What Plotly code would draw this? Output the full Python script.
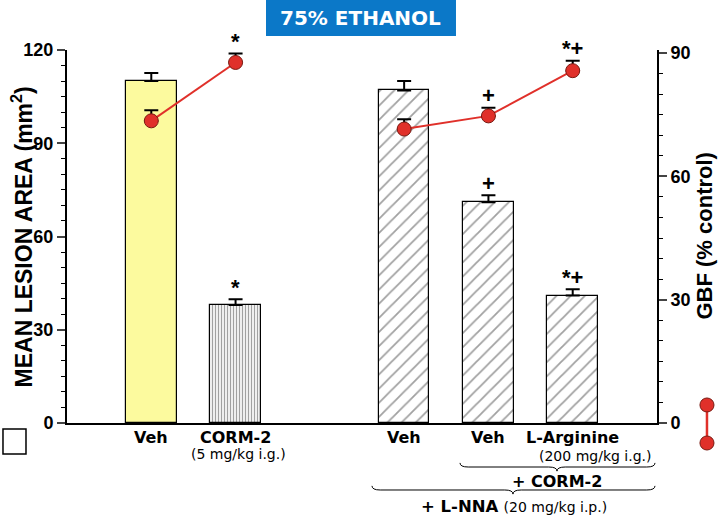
import plotly.graph_objects as go

# ---- data ----
groups = ["Veh", "CORM-2", "Veh", "Veh", "L-Arginine"]
group_sub = ["", "(5 mg/kg i.g.)", "", "", ""]
positions = [0, 1, 3, 4, 5]
lesion = [110.0, 38.0, 107.0, 71.0, 41.0]
lesion_err = [2.6, 1.8, 3.0, 2.3, 2.0]
lesion_sig = ["", "*", "", "+", "*+"]
gbf = [73.5, 87.7, 71.5, 74.7, 85.7]
gbf_err = [2.6, 2.2, 2.4, 2.0, 2.4]
gbf_sig = ["", "*", "", "+", "*+"]
line_groups = [[0, 1], [2, 3, 4]]
left_ticks = [0, 30, 60, 90, 120]
right_ticks = [0, 30, 60, 90]

bar_colors = ["#fcfa9e", "white", "white", "white", "white"]
bar_patterns = ["", "|", "/", "/", "/"]
pat_size = [8, 3, 10, 10, 10]
pat_solid = [0.3, 0.45, 0.18, 0.18, 0.18]
pat_fg = ["#a8a8a8", "#9a9a9a", "#c2c2c2", "#c2c2c2", "#c2c2c2"]

RED = "#e0302a"
BOLD = "DejaVu Sans"
ARIAL = "Liberation Sans"

fig = go.Figure()

fig.add_trace(go.Bar(
    x=positions, y=lesion, width=0.6,
    marker=dict(color=bar_colors, line=dict(color="black", width=1.2),
                pattern=dict(shape=bar_patterns, fgcolor=pat_fg,
                             size=pat_size, solidity=pat_solid, fillmode="overlay")),
    error_y=dict(type="data", symmetric=False, array=lesion_err,
                 arrayminus=[0] * len(lesion_err), color="black", thickness=2, width=7),
    showlegend=False, yaxis="y"))

for g in line_groups:
    fig.add_trace(go.Scatter(
        x=[positions[i] for i in g], y=[gbf[i] for i in g],
        mode="lines+markers",
        line=dict(color=RED, width=2),
        marker=dict(size=14, color=RED, line=dict(color="#7a1a12", width=1)),
        error_y=dict(type="data", symmetric=False, array=[gbf_err[i] for i in g],
                     arrayminus=[0] * len(g), color="black", thickness=2, width=7),
        showlegend=False, yaxis="y2"))

annotations = []
# significance marks
for i, s in enumerate(lesion_sig):
    if s:
        annotations.append(dict(x=positions[i], y=lesion[i] + lesion_err[i], xref="x", yref="y",
                                text="<b>%s</b>" % s, showarrow=False, yanchor="middle",
                                yshift=12, font=dict(family=ARIAL, size=22, color="black")))
for i, s in enumerate(gbf_sig):
    if s:
        annotations.append(dict(x=positions[i], y=gbf[i] + gbf_err[i], xref="x", yref="y2",
                                text="<b>%s</b>" % s, showarrow=False, yanchor="middle",
                                yshift=12, font=dict(family=ARIAL, size=22, color="black")))

# category labels
for i, lab in enumerate(groups):
    annotations.append(dict(x=positions[i], y=-0.040, xref="x", yref="paper",
                            text="<b>%s</b>" % lab, showarrow=False, yanchor="middle",
                            font=dict(family=BOLD, size=16, color="black")))
    if group_sub[i]:
        annotations.append(dict(x=positions[i] + 0.03, y=-0.083, xref="x", yref="paper",
                                text=group_sub[i], showarrow=False, yanchor="middle",
                                font=dict(family=BOLD, size=14, color="black")))

annotations += [
    dict(x=5.26, y=-0.088, xref="x", yref="paper", text="(200 mg/kg i.g.)", showarrow=False,
         yanchor="middle", font=dict(family=BOLD, size=14, color="black")),
    dict(x=4.81, y=-0.158, xref="x", yref="paper", text="<b>+ CORM-2</b>", showarrow=False,
         yanchor="middle", font=dict(family=BOLD, size=16, color="black")),
    dict(x=4.30, y=-0.225, xref="x", yref="paper",
         text="<b>+ L-NNA</b> <span style='font-size:14px'>(20 mg/kg i.p.)</span>",
         showarrow=False, yanchor="middle", font=dict(family=BOLD, size=16.5, color="black")),
    # title
    dict(x=0.498, y=1.086, xref="paper", yref="paper", text="<b>75% ETHANOL</b>",
         showarrow=False, yanchor="middle", font=dict(family=BOLD, size=20, color="white")),
    # axis titles
    dict(x=-0.0763, y=0.5, xref="paper", yref="paper", textangle=-90,
         text="<b>MEAN LESION AREA (mm<sup>2</sup>)</b>", showarrow=False,
         xanchor="center", yanchor="middle", font=dict(family=ARIAL, size=23, color="black")),
    dict(x=1.0797, y=0.5, xref="paper", yref="paper", textangle=-90,
         text="<b>GBF (% control)</b>", showarrow=False,
         xanchor="center", yanchor="middle", font=dict(family=ARIAL, size=22, color="black")),
]


def brace(x0, x1, xm, y, h=0.011, d=0.014):
    return (f"M {x0},{y + h} Q {x0},{y} {x0 + d},{y} L {xm - d},{y} "
            f"Q {xm},{y} {xm},{y - h} Q {xm},{y} {xm + d},{y} L {x1 - d},{y} "
            f"Q {x1},{y} {x1},{y + h}")


shapes = [
    dict(type="rect", xref="paper", yref="paper", x0=0.3373, x1=0.6593, y0=1.0375, y1=1.134,
         fillcolor="#0b78c8", line=dict(width=0), layer="below"),
    dict(type="path", xref="paper", yref="paper", path=brace(0.6661, 0.9966, 0.8305, -0.118),
         line=dict(color="black", width=1)),
    dict(type="path", xref="paper", yref="paper", path=brace(0.5169, 0.9966, 0.7559, -0.1796),
         line=dict(color="black", width=1)),
    # legend symbols
    dict(type="rect", xref="paper", yref="paper", x0=-0.1085, x1=-0.0695, y0=-0.0831, y1=-0.0161,
         fillcolor="white", line=dict(color="black", width=1.5)),
    dict(type="line", xref="paper", yref="paper", x0=1.0847, x1=1.0847, y0=0.0483, y1=-0.0536,
         line=dict(color=RED, width=2.5)),
    dict(type="circle", xref="paper", yref="paper", x0=1.0847 - 0.0119, x1=1.0847 + 0.0119,
         y0=0.0483 - 0.0188, y1=0.0483 + 0.0188, fillcolor=RED, line=dict(color="#7a1a12", width=1)),
    dict(type="circle", xref="paper", yref="paper", x0=1.0847 - 0.0119, x1=1.0847 + 0.0119,
         y0=-0.0536 - 0.0188, y1=-0.0536 + 0.0188, fillcolor=RED, line=dict(color="#7a1a12", width=1)),
]

fig.update_layout(
    width=718, height=515,
    margin=dict(l=67, r=61, t=50, b=92),
    paper_bgcolor="white", plot_bgcolor="white",
    bargap=0, showlegend=False,
    xaxis=dict(range=[-1, 6.0], showline=True, linecolor="black", linewidth=2,
               showticklabels=False, ticks="", showgrid=False, zeroline=False, fixedrange=True),
    yaxis=dict(range=[0, 120], tickvals=left_ticks, ticks="outside", ticklen=8, tickwidth=2,
               showline=True, linecolor="black", linewidth=2, showgrid=False, zeroline=False,
               tickfont=dict(family=ARIAL, size=18, color="black", weight="bold"),
               minor=dict(dtick=5, ticks="outside", ticklen=4, tickwidth=1.2, tickcolor="black")),
    yaxis2=dict(range=[0, 90.73], tickvals=right_ticks, overlaying="y", side="right",
                ticks="outside", ticklen=8, tickwidth=2, showline=True, linecolor="black",
                linewidth=2, showgrid=False, zeroline=False,
                tickfont=dict(family=ARIAL, size=18, color="black", weight="bold"),
                minor=dict(dtick=5, ticks="outside", ticklen=4, tickwidth=1.2, tickcolor="black")),
    annotations=annotations,
    shapes=shapes,
)

fig.write_html("out.html", config={"displayModeBar": False},
               post_script="document.body.style.margin='0';document.body.style.overflow='hidden';")
